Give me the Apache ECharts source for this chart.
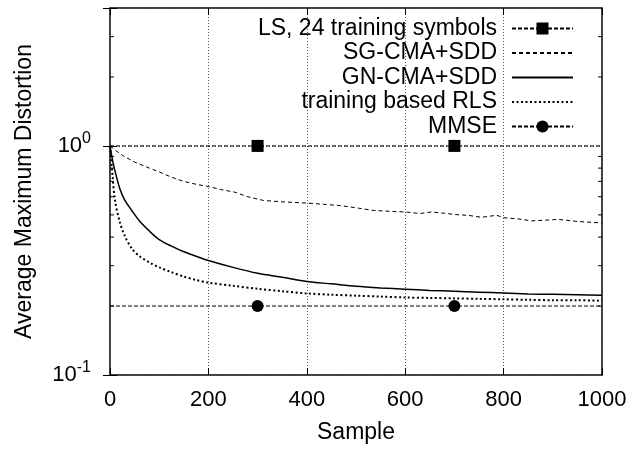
<!DOCTYPE html>
<html>
<head>
<meta charset="utf-8">
<script src="https://cdn.jsdelivr.net/npm/echarts@6/dist/echarts.min.js"></script>
<style>
  html, body { margin: 0; padding: 0; background: #fff; }
  #chart { width: 633px; height: 449px; }
</style>
</head>
<body>
<div id="chart"></div>
<script>
var FONT = '"Liberation Sans", Arial, sans-serif';

var seriesNames = ['LS, 24 training symbols', 'SG-CMA+SDD', 'GN-CMA+SDD', 'training based RLS', 'MMSE'];

// LS and MMSE: flat levels, markers at 300 and 700
var lsX = [0, 300, 700, 1000];
var lsY = [1.0, 1.0, 1.0, 1.0];
var mmseX = [0, 300, 700, 1000];
var mmseY = [0.2, 0.2, 0.2, 0.2];
var markerX = [300, 700];

// SG-CMA+SDD (noisy dashed curve)
var sgX = [0, 10, 25, 50, 80, 100, 125, 150, 175, 200, 225, 254, 280, 312, 350, 400, 440, 474, 505, 535,
  570, 600, 630, 654, 680, 701, 730, 755, 786, 800, 830, 857, 885, 911, 950, 1000];
var sgY = [1.0, 0.96, 0.91, 0.85, 0.8, 0.77, 0.73, 0.70, 0.68, 0.665, 0.645, 0.628, 0.60, 0.578, 0.57, 0.563, 0.555, 0.547, 0.535, 0.523,
  0.518, 0.515, 0.507, 0.515, 0.508, 0.502, 0.497, 0.488, 0.498, 0.486, 0.48, 0.471, 0.474, 0.478, 0.468, 0.461];

// GN-CMA+SDD and training based RLS
var curveX = [0, 5, 10, 20, 30, 45, 60, 80, 100, 125, 150, 175, 200, 250, 300, 350, 400, 450, 500, 550,
  600, 650, 700, 750, 800, 850, 900, 950, 1000];
var gnY = [1.0, 0.87, 0.78, 0.65, 0.58, 0.52, 0.47, 0.425, 0.39, 0.365, 0.345, 0.33, 0.316, 0.295, 0.278, 0.267, 0.256, 0.25, 0.244, 0.24,
  0.237, 0.234, 0.232, 0.23, 0.228, 0.226, 0.225, 0.224, 0.223];
var rlsY = [1.0, 0.75, 0.58, 0.465, 0.405, 0.355, 0.33, 0.31, 0.295, 0.281, 0.269, 0.26, 0.253, 0.245, 0.238, 0.232, 0.227, 0.224, 0.222, 0.22,
  0.218, 0.217, 0.216, 0.215, 0.214, 0.213, 0.212, 0.212, 0.211];

var yMinorTicks = [0.2, 0.3, 0.4, 0.5, 0.6, 0.7, 0.8, 0.9, 2, 3];

function pairs(xs, ys) {
  var out = [];
  for (var i = 0; i < xs.length; i++) out.push([xs[i], ys[i]]);
  return out;
}

function markedPairs(xs, ys) {
  var out = [];
  for (var i = 0; i < xs.length; i++) {
    var item = { value: [xs[i], ys[i]] };
    if (markerX.indexOf(xs[i]) < 0) item.symbol = 'none';
    out.push(item);
  }
  return out;
}

var chart = echarts.init(document.getElementById('chart'));

var yLabel = function (v) {
  var e = Math.log(v) / Math.LN10;
  if (Math.abs(e - Math.round(e)) > 1e-6) return '';
  return '{b|10}{s|' + Math.round(e) + '}';
};

var option = {
  animation: false,
  textStyle: { fontFamily: FONT, color: '#000' },
  grid: {
    left: 110, right: 31, top: 8, bottom: 71,
    show: true, borderColor: '#000', borderWidth: 1.5, backgroundColor: 'transparent'
  },
  legend: {
    data: [
      { name: seriesNames[0] },
      { name: seriesNames[1], itemStyle: { opacity: 0 } },
      { name: seriesNames[2], itemStyle: { opacity: 0 } },
      { name: seriesNames[3], itemStyle: { opacity: 0 } },
      { name: seriesNames[4] }
    ],
    orient: 'vertical',
    align: 'right',
    right: 54,
    top: 12,
    itemWidth: 61,
    itemHeight: 15,
    itemGap: 1.5,
    textStyle: { fontFamily: FONT, fontSize: 23, color: '#000', lineHeight: 22, padding: [0, 10, 0, 0] }
  },
  xAxis: [{
    type: 'value', min: 0, max: 1000, interval: 200,
    name: 'Sample', nameLocation: 'middle', nameGap: 46,
    nameTextStyle: { fontSize: 23, fontFamily: FONT, color: '#000' },
    axisLine: { show: false },
    axisTick: { show: true, inside: true, length: 7, lineStyle: { color: '#000', width: 1 } },
    axisLabel: { fontSize: 22, fontFamily: FONT, color: '#000', margin: 14, formatter: function (v) { return String(v); } },
    splitLine: { show: true, lineStyle: { color: '#555', type: [1, 2], width: 1 } }
  }, {
    type: 'value', min: 0, max: 1000, interval: 200, position: 'top',
    axisLine: { show: false },
    axisTick: { show: true, inside: true, length: 7, lineStyle: { color: '#000', width: 1 } },
    axisLabel: { show: false },
    splitLine: { show: false }
  }],
  yAxis: [{
    type: 'log', logBase: 10, min: 0.1, max: 4,
    name: 'Average Maximum Distortion', nameLocation: 'middle', nameGap: 74,
    nameTextStyle: { fontSize: 23, fontFamily: FONT, color: '#000' },
    axisLine: { show: false },
    axisTick: { show: true, inside: true, length: 7, lineStyle: { color: '#000', width: 1 } },
    axisLabel: {
      margin: 19, formatter: yLabel,
      rich: {
        b: { fontSize: 22, fontFamily: FONT, color: '#000' },
        s: { fontSize: 16, fontFamily: FONT, color: '#000', padding: [0, 0, 14, 0] }
      }
    },
    splitLine: { show: true, lineStyle: { color: '#555', type: [1, 2], width: 1 } }
  }, {
    type: 'log', logBase: 10, min: 0.1, max: 4, position: 'right',
    axisLine: { show: false },
    axisTick: { show: true, inside: true, length: 7, lineStyle: { color: '#000', width: 1 } },
    axisLabel: { show: false },
    splitLine: { show: false }
  }],
  series: [
    {
      name: seriesNames[0], type: 'line', data: markedPairs(lsX, lsY),
      symbol: 'rect', symbolSize: 12, showAllSymbol: true,
      itemStyle: { color: '#000' },
      lineStyle: { color: '#000', width: 1, type: [4, 2] }, z: 5
    },
    {
      name: seriesNames[1], type: 'line', data: pairs(sgX, sgY),
      symbol: 'none', itemStyle: { color: '#000' },
      lineStyle: { color: '#000', width: 1, type: [4, 3] }
    },
    {
      name: seriesNames[2], type: 'line', data: pairs(curveX, gnY),
      symbol: 'none', smooth: 0.3, itemStyle: { color: '#000' },
      lineStyle: { color: '#000', width: 1.5, type: 'solid' }
    },
    {
      name: seriesNames[3], type: 'line', data: pairs(curveX, rlsY),
      symbol: 'none', smooth: 0.3, itemStyle: { color: '#000' },
      lineStyle: { color: '#000', width: 2, type: [2, 2.5] }
    },
    {
      name: seriesNames[4], type: 'line', data: markedPairs(mmseX, mmseY),
      symbol: 'circle', symbolSize: 12, showAllSymbol: true,
      itemStyle: { color: '#000' },
      lineStyle: { color: '#000', width: 1, type: [4, 2] }, z: 5
    },
    {
      name: 'minor ticks', type: 'custom', silent: true,
      data: yMinorTicks.map(function (v) { return [0, v]; }),
      renderItem: function (params, api) {
        var v = api.value(1);
        var l = api.coord([0, v]);
        var r = api.coord([1000, v]);
        var st = { stroke: '#000', lineWidth: 1 };
        return {
          type: 'group',
          children: [
            { type: 'line', shape: { x1: l[0], y1: l[1], x2: l[0] + 4, y2: l[1] }, style: st },
            { type: 'line', shape: { x1: r[0] - 4, y1: r[1], x2: r[0], y2: r[1] }, style: st }
          ]
        };
      }
    }
  ]
};

chart.setOption(option);
</script>
</body>
</html>
